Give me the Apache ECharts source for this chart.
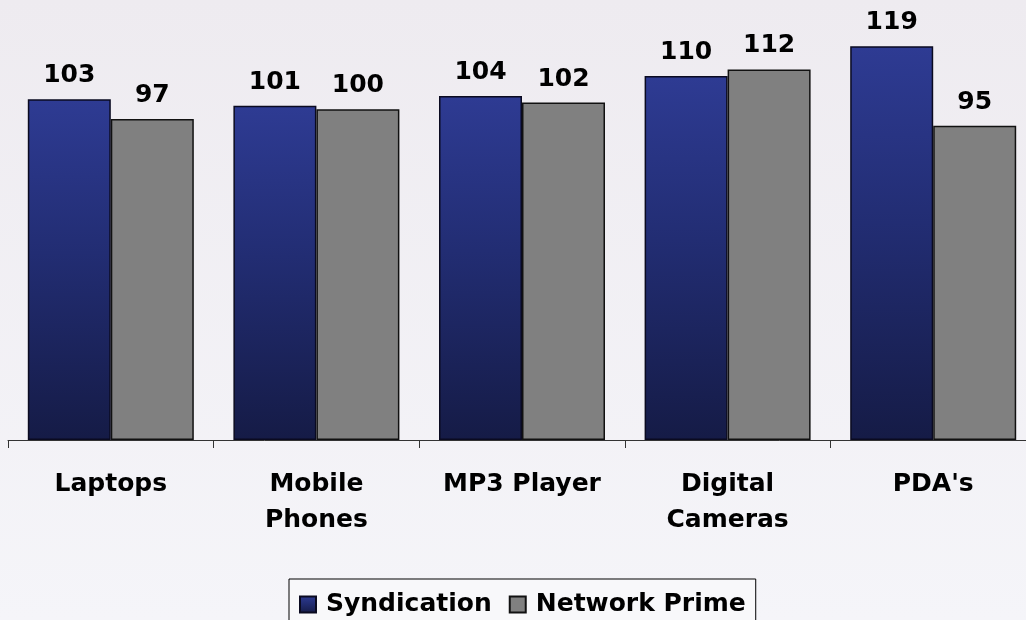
<!DOCTYPE html>
<html>
<head>
<meta charset="utf-8">
<script src="https://cdn.jsdelivr.net/npm/echarts@6/dist/echarts.min.js"></script>
<style>
html,body{margin:0;padding:0;overflow:hidden;}
#c{width:1036px;height:620px;}
</style>
</head>
<body>
<div id="c"></div>
<script>
const categories = ['Laptops', 'Mobile\nPhones', 'MP3 Player', 'Digital\nCameras', "PDA's"];
const syndication = [103, 101, 104, 110, 119];
const networkPrime = [97, 100, 102, 112, 95];
const seriesNames = ['Syndication', 'Network Prime'];

const FONT = 'DejaVu Sans';
const chart = echarts.init(document.getElementById('c'), null, {renderer: 'canvas'});
const labelStyle = {
  show: true, position: 'top', distance: 11,
  fontFamily: FONT, fontWeight: 'bold', fontSize: 25, color: '#000'
};
chart.setOption({
  animation: false,
  backgroundColor: new echarts.graphic.LinearGradient(0, 0, 0, 1, [
    {offset: 0, color: '#EEEBF0'},
    {offset: 1, color: '#F5F5F9'}
  ]),
  grid: {left: 8, top: 0, right: 0, height: 440, containLabel: false},
  legend: {
    data: seriesNames,
    top: 579, left: 289,
    padding: [13, 10, 20, 10],
    itemWidth: 16, itemHeight: 16, itemGap: 17,
    backgroundColor: '#F8F8FA',
    borderColor: '#000', borderWidth: 1,
    textStyle: {fontFamily: FONT, fontWeight: 'bold', fontSize: 25, color: '#000', padding: [0, 0, 0, 5]},
    icon: 'rect'
  },
  xAxis: {
    type: 'category',
    data: categories,
    axisLine: {lineStyle: {color: '#333', width: 1}},
    axisTick: {show: true, length: 8, lineStyle: {color: '#333'}},
    axisLabel: {
      fontFamily: FONT, fontWeight: 'bold', fontSize: 25, color: '#000',
      lineHeight: 36, margin: 26, interval: 0
    }
  },
  yAxis: {type: 'value', min: 0, max: 133, show: false, splitLine: {show: false}},
  series: [
    {
      name: seriesNames[0], type: 'bar', data: syndication,
      barWidth: 83, barGap: '0%',
      itemStyle: {
        color: new echarts.graphic.LinearGradient(0, 0, 0, 1, [
          {offset: 0, color: '#2E3B93'},
          {offset: 0.45, color: '#222D73'},
          {offset: 1, color: '#151B46'}
        ]),
        borderColor: '#0a0a20', borderWidth: 1.5
      },
      label: labelStyle
    },
    {
      name: seriesNames[1], type: 'bar', data: networkPrime,
      barWidth: 83,
      itemStyle: {color: '#808080', borderColor: '#111', borderWidth: 1.5},
      label: labelStyle
    }
  ]
});
</script>
</body>
</html>
